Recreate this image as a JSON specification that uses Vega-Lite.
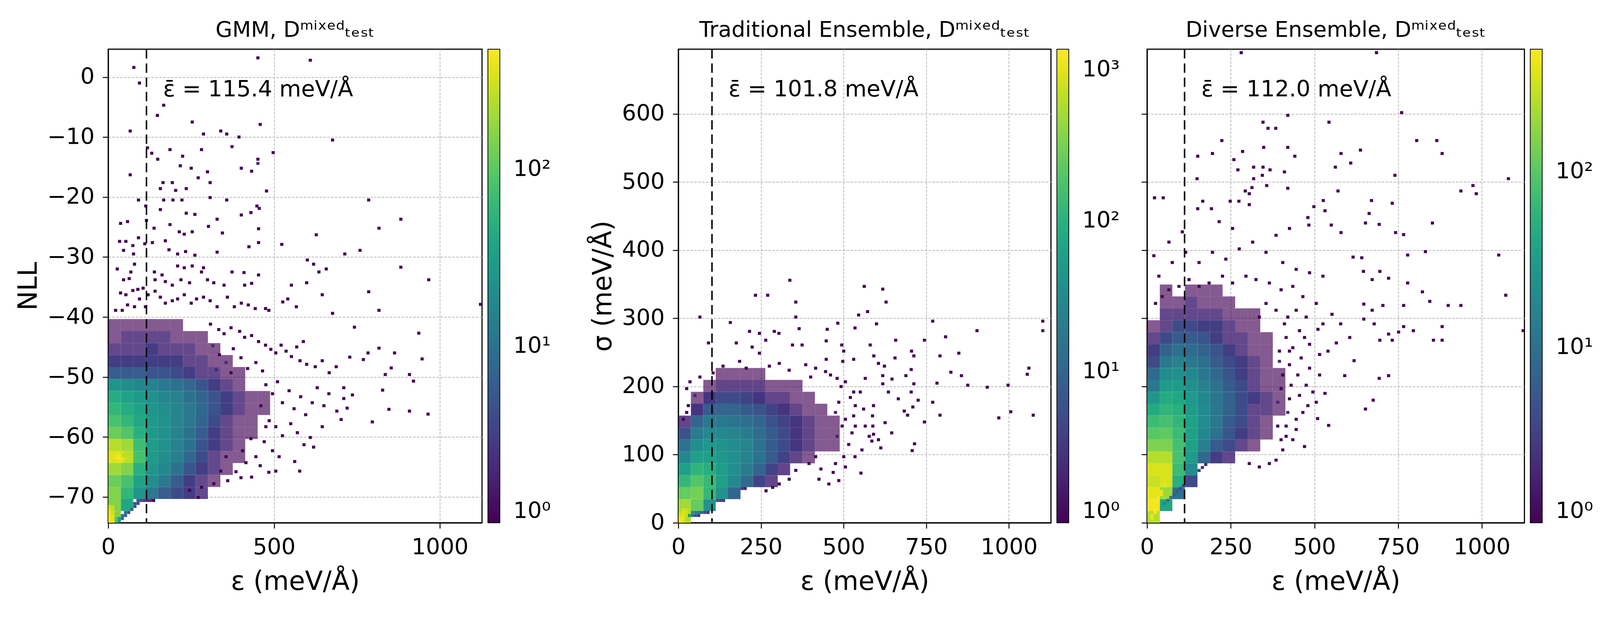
{
  "$schema": "https://vega.github.io/schema/vega-lite/v6.json",
  "background": "white",
  "padding": {"left": 37, "top": 48, "right": 5, "bottom": 5},
  "config": {
    "font": "DejaVu Sans",
    "view": {"stroke": "black", "strokeWidth": 2.9},
    "title": {"fontSize": 55.4, "fontWeight": "normal", "font": "DejaVu Sans", "anchor": "middle", "frame": "group", "offset": 19, "baseline": "alphabetic", "color": "black"},
    "axis": {
      "labelFontSize": 57.3, "titleFontSize": 66.9, "titleFontWeight": "normal", "labelColor": "black", "titleColor": "black",
      "tickSize": 14.3, "tickWidth": 2.4, "tickColor": "black", "labelPadding": 21, "titlePadding": 13.4,
      "domainColor": "black", "domainWidth": 2.9, "grid": true, "gridDash": [6.7, 3.3], "gridColor": "#b8b8b8", "gridWidth": 1.9,
      "zindex": 1, "labelFlush": false, "labelOverlap": false
    },
    "axisX": {"titlePadding": 26.7},
    "legend": {
      "gradientLength": 1213, "gradientThickness": 30.6, "labelFontSize": 57.3, "labelColor": "black", "offset": 15.3,
      "padding": 0, "gradientStrokeColor": "black", "gradientStrokeWidth": 1.9, "labelBaseline": "middle", "direction": "vertical", "orient": "right"
    }
  },
  "datasets": {
    "a1": [{"m": 115.4, "tx": 165.4, "ty": -3.2, "t": "ε̄ = 115.4 meV/Å"}],
    "a2": [{"m": 101.8, "tx": 151.8, "ty": 625.6, "t": "ε̄ = 101.8 meV/Å"}],
    "a3": [{"m": 112.0, "tx": 162.0, "ty": 625.6, "t": "ε̄ = 112.0 meV/Å"}],
    "p1c": [
      {"x":0,"y":-74.3,"c":150},
      {"x":0,"y":-72.3,"c":150},{"x":37.5,"y":-72.3,"c":40},
      {"x":0,"y":-70.3,"c":150},{"x":37.5,"y":-70.3,"c":60},{"x":75,"y":-70.3,"c":25},{"x":112.5,"y":-70.3,"c":12},{"x":150,"y":-70.3,"c":6},{"x":187.5,"y":-70.3,"c":4},{"x":225,"y":-70.3,"c":3},{"x":262.5,"y":-70.3,"c":2},
      {"x":0,"y":-68.3,"c":120},{"x":37.5,"y":-68.3,"c":80},{"x":75,"y":-68.3,"c":35},{"x":112.5,"y":-68.3,"c":20},{"x":150,"y":-68.3,"c":12},{"x":187.5,"y":-68.3,"c":6},{"x":225,"y":-68.3,"c":3},{"x":262.5,"y":-68.3,"c":2},{"x":300,"y":-68.3,"c":1},
      {"x":0,"y":-66.3,"c":200},{"x":37.5,"y":-66.3,"c":150},{"x":75,"y":-66.3,"c":50},{"x":112.5,"y":-66.3,"c":25},{"x":150,"y":-66.3,"c":18},{"x":187.5,"y":-66.3,"c":10},{"x":225,"y":-66.3,"c":5},{"x":262.5,"y":-66.3,"c":3},{"x":300,"y":-66.3,"c":2},{"x":337.5,"y":-66.3,"c":1},
      {"x":0,"y":-64.3,"c":350},{"x":37.5,"y":-64.3,"c":250},{"x":75,"y":-64.3,"c":80},{"x":112.5,"y":-64.3,"c":30},{"x":150,"y":-64.3,"c":20},{"x":187.5,"y":-64.3,"c":14},{"x":225,"y":-64.3,"c":8},{"x":262.5,"y":-64.3,"c":4},{"x":300,"y":-64.3,"c":2},{"x":337.5,"y":-64.3,"c":1},{"x":375,"y":-64.3,"c":1},
      {"x":0,"y":-62.3,"c":250},{"x":37.5,"y":-62.3,"c":200},{"x":75,"y":-62.3,"c":70},{"x":112.5,"y":-62.3,"c":30},{"x":150,"y":-62.3,"c":22},{"x":187.5,"y":-62.3,"c":15},{"x":225,"y":-62.3,"c":10},{"x":262.5,"y":-62.3,"c":5},{"x":300,"y":-62.3,"c":3},{"x":337.5,"y":-62.3,"c":2},{"x":375,"y":-62.3,"c":1},
      {"x":0,"y":-60.3,"c":120},{"x":37.5,"y":-60.3,"c":90},{"x":75,"y":-60.3,"c":50},{"x":112.5,"y":-60.3,"c":28},{"x":150,"y":-60.3,"c":22},{"x":187.5,"y":-60.3,"c":16},{"x":225,"y":-60.3,"c":10},{"x":262.5,"y":-60.3,"c":6},{"x":300,"y":-60.3,"c":3},{"x":337.5,"y":-60.3,"c":2},{"x":375,"y":-60.3,"c":1},{"x":412.5,"y":-60.3,"c":1},
      {"x":0,"y":-58.3,"c":80},{"x":37.5,"y":-58.3,"c":60},{"x":75,"y":-58.3,"c":40},{"x":112.5,"y":-58.3,"c":28},{"x":150,"y":-58.3,"c":22},{"x":187.5,"y":-58.3,"c":16},{"x":225,"y":-58.3,"c":12},{"x":262.5,"y":-58.3,"c":7},{"x":300,"y":-58.3,"c":4},{"x":337.5,"y":-58.3,"c":2},{"x":375,"y":-58.3,"c":1},{"x":412.5,"y":-58.3,"c":1},
      {"x":0,"y":-56.3,"c":60},{"x":37.5,"y":-56.3,"c":45},{"x":75,"y":-56.3,"c":35},{"x":112.5,"y":-56.3,"c":25},{"x":150,"y":-56.3,"c":20},{"x":187.5,"y":-56.3,"c":16},{"x":225,"y":-56.3,"c":12},{"x":262.5,"y":-56.3,"c":8},{"x":300,"y":-56.3,"c":5},{"x":337.5,"y":-56.3,"c":3},{"x":375,"y":-56.3,"c":2},{"x":412.5,"y":-56.3,"c":1},{"x":450,"y":-56.3,"c":1},
      {"x":0,"y":-54.3,"c":45},{"x":37.5,"y":-54.3,"c":35},{"x":75,"y":-54.3,"c":28},{"x":112.5,"y":-54.3,"c":22},{"x":150,"y":-54.3,"c":18},{"x":187.5,"y":-54.3,"c":15},{"x":225,"y":-54.3,"c":10},{"x":262.5,"y":-54.3,"c":7},{"x":300,"y":-54.3,"c":5},{"x":337.5,"y":-54.3,"c":3},{"x":375,"y":-54.3,"c":2},{"x":412.5,"y":-54.3,"c":1},{"x":450,"y":-54.3,"c":1},
      {"x":0,"y":-52.3,"c":25},{"x":37.5,"y":-52.3,"c":20},{"x":75,"y":-52.3,"c":18},{"x":112.5,"y":-52.3,"c":15},{"x":150,"y":-52.3,"c":12},{"x":187.5,"y":-52.3,"c":10},{"x":225,"y":-52.3,"c":8},{"x":262.5,"y":-52.3,"c":5},{"x":300,"y":-52.3,"c":3},{"x":337.5,"y":-52.3,"c":2},{"x":375,"y":-52.3,"c":1},
      {"x":0,"y":-50.3,"c":6},{"x":37.5,"y":-50.3,"c":6},{"x":75,"y":-50.3,"c":6},{"x":112.5,"y":-50.3,"c":5},{"x":150,"y":-50.3,"c":5},{"x":187.5,"y":-50.3,"c":4},{"x":225,"y":-50.3,"c":3},{"x":262.5,"y":-50.3,"c":2},{"x":300,"y":-50.3,"c":2},{"x":337.5,"y":-50.3,"c":1},{"x":375,"y":-50.3,"c":1},
      {"x":0,"y":-48.3,"c":3},{"x":37.5,"y":-48.3,"c":3},{"x":75,"y":-48.3,"c":3},{"x":112.5,"y":-48.3,"c":3},{"x":150,"y":-48.3,"c":3},{"x":187.5,"y":-48.3,"c":3},{"x":225,"y":-48.3,"c":2},{"x":262.5,"y":-48.3,"c":2},{"x":300,"y":-48.3,"c":1},{"x":337.5,"y":-48.3,"c":1},
      {"x":0,"y":-46.3,"c":2},{"x":37.5,"y":-46.3,"c":2},{"x":75,"y":-46.3,"c":2},{"x":112.5,"y":-46.3,"c":3},{"x":150,"y":-46.3,"c":2},{"x":187.5,"y":-46.3,"c":2},{"x":225,"y":-46.3,"c":2},{"x":262.5,"y":-46.3,"c":1},{"x":300,"y":-46.3,"c":1},
      {"x":0,"y":-44.3,"c":1},{"x":37.5,"y":-44.3,"c":2},{"x":75,"y":-44.3,"c":2},{"x":112.5,"y":-44.3,"c":2},{"x":150,"y":-44.3,"c":2},{"x":187.5,"y":-44.3,"c":1},{"x":225,"y":-44.3,"c":1},{"x":262.5,"y":-44.3,"c":1},
      {"x":0,"y":-42.3,"c":1},{"x":37.5,"y":-42.3,"c":1},{"x":75,"y":-42.3,"c":1},{"x":112.5,"y":-42.3,"c":1},{"x":150,"y":-42.3,"c":1},{"x":187.5,"y":-42.3,"c":1}
    ],
    "p1f": [
      {"x":0,"y":-74.3,"c":450},{"x":9.4,"y":-74.3,"c":400},{"x":0,"y":-73.8,"c":450},{"x":9.4,"y":-73.8,"c":380},{"x":0,"y":-73.3,"c":420},{"x":9.4,"y":-73.3,"c":350},{"x":0,"y":-72.8,"c":400},{"x":9.4,"y":-72.8,"c":300},{"x":0,"y":-72.3,"c":350},{"x":9.4,"y":-72.3,"c":280},{"x":0,"y":-71.8,"c":300},{"x":9.4,"y":-71.8,"c":250},
      {"x":18.8,"y":-74.3,"c":80},{"x":28.2,"y":-74.3,"c":25},{"x":18.8,"y":-73.8,"c":90},{"x":28.2,"y":-73.8,"c":30},{"x":37.6,"y":-73.8,"c":8},{"x":37.6,"y":-73.3,"c":10},{"x":47,"y":-73.3,"c":6},{"x":47,"y":-72.8,"c":8},{"x":56.4,"y":-72.8,"c":4},{"x":65.8,"y":-72.3,"c":6},{"x":75.2,"y":-71.8,"c":4},{"x":75.2,"y":-71.3,"c":5},{"x":84.6,"y":-71.3,"c":4},{"x":84.6,"y":-70.8,"c":5},{"x":94,"y":-70.8,"c":4},{"x":103.4,"y":-70.8,"c":3},{"x":112.8,"y":-70.8,"c":2},{"x":122.2,"y":-70.8,"c":2},{"x":131.6,"y":-70.8,"c":1},
      {"x":18.8,"y":-63.8,"c":420},{"x":28.2,"y":-63.8,"c":450},{"x":37.6,"y":-63.8,"c":400},{"x":18.8,"y":-63.3,"c":400},{"x":28.2,"y":-63.3,"c":420},{"x":28.2,"y":-64.3,"c":380},{"x":37.6,"y":-64.3,"c":350},{"x":47,"y":-63.8,"c":330},{"x":18.8,"y":-64.3,"c":350},{"x":37.6,"y":-62.8,"c":330},{"x":28.2,"y":-62.8,"c":360},
      {"x":446,"y":3.0,"c":1},{"x":604,"y":2.6,"c":1},{"x":72,"y":1.4,"c":1},{"x":89,"y":-1.2,"c":1},{"x":162,"y":-4.9,"c":1},{"x":143,"y":-6.6,"c":1},{"x":248,"y":-7.7,"c":1},{"x":453,"y":-8.1,"c":1},{"x":61,"y":-9.2,"c":1},{"x":334,"y":-9.2,"c":1},{"x":352,"y":-9.7,"c":1},{"x":282,"y":-9.7,"c":1},{"x":389,"y":-10.2,"c":1},{"x":671,"y":-10.7,"c":1},
      {"x":113,"y":-12.0,"c":1},{"x":181,"y":-12.3,"c":1},{"x":276,"y":-12.3,"c":1},{"x":368,"y":-11.8,"c":1},{"x":492,"y":-12.8,"c":1},{"x":126,"y":-12.9,"c":1},{"x":219,"y":-13.4,"c":1},{"x":446,"y":-13.9,"c":1},{"x":446,"y":-14.6,"c":2},{"x":144,"y":-13.9,"c":1},{"x":212,"y":-15.0,"c":1},{"x":245,"y":-15.4,"c":1},{"x":396,"y":-15.4,"c":1},{"x":427,"y":-15.9,"c":1},{"x":294,"y":-16.0,"c":1},{"x":61,"y":-16.5,"c":1},{"x":266,"y":-17.0,"c":1},
      {"x":160,"y":-17.8,"c":1},{"x":188,"y":-17.8,"c":1},{"x":302,"y":-17.8,"c":1},{"x":152,"y":-18.8,"c":1},{"x":230,"y":-18.8,"c":1},{"x":198,"y":-19.1,"c":1},{"x":472,"y":-19.2,"c":1},{"x":86,"y":-20.7,"c":1},{"x":162,"y":-20.7,"c":1},{"x":190,"y":-20.7,"c":1},{"x":217,"y":-20.7,"c":1},{"x":302,"y":-20.3,"c":1},{"x":352,"y":-20.7,"c":1},{"x":780,"y":-20.7,"c":1},
      {"x":443,"y":-21.7,"c":1},{"x":450,"y":-22.1,"c":1},{"x":108,"y":-21.7,"c":1},{"x":152,"y":-22.3,"c":1},{"x":425,"y":-22.8,"c":1},{"x":396,"y":-23.2,"c":1},{"x":230,"y":-22.9,"c":1},{"x":256,"y":-23.1,"c":1},{"x":110,"y":-24.1,"c":1},{"x":323,"y":-23.9,"c":1},{"x":297,"y":-25.1,"c":1},{"x":877,"y":-23.9,"c":1},{"x":32,"y":-24.6,"c":1},{"x":53,"y":-24.3,"c":1},
      {"x":181,"y":-24.8,"c":1},{"x":209,"y":-26.0,"c":1},{"x":224,"y":-26.4,"c":1},{"x":248,"y":-26.0,"c":1},{"x":133,"y":-25.4,"c":1},{"x":448,"y":-25.5,"c":1},{"x":811,"y":-25.4,"c":1},{"x":622,"y":-26.5,"c":1},{"x":86,"y":-27.0,"c":1},{"x":105,"y":-28.0,"c":1},{"x":29,"y":-27.6,"c":1},{"x":48,"y":-27.6,"c":1},{"x":69,"y":-28.3,"c":1},{"x":339,"y":-26.2,"c":1},
      {"x":167,"y":-27.5,"c":1},{"x":178,"y":-29.0,"c":1},{"x":448,"y":-27.8,"c":1},{"x":419,"y":-28.5,"c":1},{"x":518,"y":-28.1,"c":1},{"x":128,"y":-27.8,"c":1},{"x":204,"y":-29.7,"c":1},{"x":228,"y":-29.3,"c":1},{"x":256,"y":-29.9,"c":1},{"x":323,"y":-29.4,"c":1},{"x":708,"y":-29.7,"c":1},{"x":754,"y":-29.1,"c":1},{"x":41,"y":-29.1,"c":1},{"x":71,"y":-29.7,"c":1},
      {"x":595,"y":-30.7,"c":1},{"x":614,"y":-31.4,"c":1},{"x":630,"y":-32.7,"c":1},{"x":652,"y":-32.2,"c":1},{"x":877,"y":-31.9,"c":1},{"x":22,"y":-32.2,"c":1},{"x":74,"y":-31.4,"c":1},{"x":63,"y":-32.7,"c":1},{"x":204,"y":-31.7,"c":1},{"x":224,"y":-32.0,"c":1},{"x":248,"y":-31.7,"c":1},{"x":276,"y":-32.7,"c":1},{"x":282,"y":-32.0,"c":1},{"x":134,"y":-32.7,"c":1},{"x":157,"y":-33.2,"c":1},
      {"x":368,"y":-32.7,"c":1},{"x":404,"y":-32.8,"c":1},{"x":448,"y":-33.2,"c":1},{"x":961,"y":-34.0,"c":1},{"x":41,"y":-34.0,"c":1},{"x":58,"y":-33.8,"c":1},{"x":136,"y":-34.0,"c":1},{"x":167,"y":-34.3,"c":1},{"x":188,"y":-34.9,"c":1},{"x":214,"y":-34.0,"c":1},{"x":240,"y":-34.5,"c":1},{"x":294,"y":-34.0,"c":1},{"x":313,"y":-34.5,"c":1},{"x":344,"y":-34.9,"c":1},
      {"x":406,"y":-34.9,"c":1},{"x":427,"y":-34.6,"c":1},{"x":547,"y":-34.9,"c":1},{"x":593,"y":-34.5,"c":1},{"x":780,"y":-36.0,"c":1},{"x":640,"y":-36.5,"c":1},{"x":1117,"y":-38.1,"c":1},{"x":811,"y":-39.1,"c":1},{"x":479,"y":-39.1,"c":1},{"x":536,"y":-37.2,"c":1},{"x":521,"y":-37.7,"c":1},{"x":562,"y":-38.5,"c":1},{"x":671,"y":-39.6,"c":1},
      {"x":32,"y":-36.2,"c":1},{"x":48,"y":-36.5,"c":1},{"x":69,"y":-35.8,"c":1},{"x":84,"y":-35.6,"c":1},{"x":100,"y":-35.4,"c":1},{"x":53,"y":-38.2,"c":1},{"x":74,"y":-38.5,"c":1},{"x":89,"y":-37.2,"c":1},{"x":107,"y":-38.5,"c":1},{"x":17,"y":-39.1,"c":1},{"x":37,"y":-39.1,"c":1},{"x":115,"y":-36.5,"c":1},{"x":136,"y":-35.9,"c":1},{"x":152,"y":-36.9,"c":1},
      {"x":167,"y":-37.9,"c":1},{"x":188,"y":-37.5,"c":1},{"x":204,"y":-37.2,"c":1},{"x":224,"y":-36.5,"c":1},{"x":245,"y":-37.9,"c":1},{"x":261,"y":-37.2,"c":1},{"x":282,"y":-36.9,"c":1},{"x":302,"y":-37.5,"c":1},{"x":323,"y":-38.5,"c":1},{"x":354,"y":-36.9,"c":1},{"x":375,"y":-38.5,"c":1},{"x":396,"y":-37.9,"c":1},{"x":417,"y":-38.2,"c":1},{"x":438,"y":-38.8,"c":1},{"x":469,"y":-38.8,"c":1},
      {"x":303,"y":-41.4,"c":1},{"x":328,"y":-42.3,"c":1},{"x":344,"y":-43.0,"c":1},{"x":365,"y":-42.0,"c":1},{"x":391,"y":-42.6,"c":1},{"x":406,"y":-43.6,"c":1},{"x":427,"y":-43.3,"c":1},{"x":448,"y":-44.3,"c":1},{"x":469,"y":-44.9,"c":1},{"x":485,"y":-45.6,"c":1},{"x":500,"y":-46.2,"c":1},{"x":516,"y":-44.9,"c":1},{"x":531,"y":-45.9,"c":1},{"x":547,"y":-46.8,"c":1},
      {"x":563,"y":-45.2,"c":1},{"x":583,"y":-44.3,"c":1},{"x":573,"y":-47.5,"c":1},{"x":593,"y":-48.1,"c":1},{"x":619,"y":-48.5,"c":1},{"x":640,"y":-47.5,"c":1},{"x":661,"y":-49.5,"c":1},{"x":682,"y":-48.5,"c":1},{"x":705,"y":-52.0,"c":1},{"x":723,"y":-46.9,"c":1},
      {"x":310,"y":-45.0,"c":2},{"x":330,"y":-46.5,"c":1},{"x":350,"y":-47.8,"c":2},{"x":372,"y":-45.5,"c":1},{"x":395,"y":-47.0,"c":1},{"x":415,"y":-48.8,"c":1},{"x":440,"y":-47.8,"c":1},{"x":460,"y":-49.2,"c":1},{"x":320,"y":-49.0,"c":2},{"x":365,"y":-49.5,"c":1},
      {"x":737,"y":-41.9,"c":1},{"x":778,"y":-46.2,"c":1},{"x":811,"y":-45.4,"c":1},{"x":764,"y":-47.3,"c":1},{"x":858,"y":-46.2,"c":1},{"x":931,"y":-42.9,"c":1},{"x":941,"y":-47.2,"c":1},{"x":848,"y":-48.7,"c":1},{"x":830,"y":-49.8,"c":1},{"x":903,"y":-49.8,"c":1},{"x":915,"y":-50.9,"c":1},{"x":822,"y":-52.4,"c":1},{"x":903,"y":-55.9,"c":1},{"x":959,"y":-56.4,"c":1},
      {"x":841,"y":-55.6,"c":1},{"x":791,"y":-57.7,"c":1},{"x":705,"y":-53.8,"c":1},{"x":731,"y":-53.2,"c":1},{"x":715,"y":-55.4,"c":1},{"x":684,"y":-55.9,"c":1},{"x":697,"y":-57.3,"c":1},{"x":640,"y":-58.5,"c":1},{"x":604,"y":-60.3,"c":1},{"x":614,"y":-61.9,"c":1},{"x":557,"y":-64.3,"c":1},{"x":572,"y":-65.9,"c":1},{"x":479,"y":-66.1,"c":1},{"x":500,"y":-65.9,"c":1},
      {"x":453,"y":-65.0,"c":1},{"x":427,"y":-66.9,"c":1},{"x":334,"y":-65.9,"c":1},{"x":355,"y":-67.5,"c":1},{"x":313,"y":-68.0,"c":1},{"x":266,"y":-70.3,"c":1},{"x":240,"y":-69.1,"c":1},{"x":276,"y":-68.6,"c":1},
      {"x":470,"y":-51.5,"c":1},{"x":490,"y":-53.0,"c":1},{"x":505,"y":-51.0,"c":1},{"x":520,"y":-54.5,"c":1},{"x":540,"y":-52.5,"c":1},{"x":555,"y":-55.5,"c":1},{"x":575,"y":-53.5,"c":1},{"x":590,"y":-56.5,"c":1},{"x":610,"y":-54.5,"c":1},{"x":625,"y":-52.0,"c":1},{"x":645,"y":-55.0,"c":1},{"x":660,"y":-53.0,"c":1},{"x":480,"y":-57.5,"c":1},{"x":500,"y":-58.5,"c":1},
      {"x":520,"y":-60.0,"c":1},{"x":545,"y":-58.0,"c":1},{"x":565,"y":-59.5,"c":1},{"x":585,"y":-61.5,"c":1},{"x":465,"y":-61.0,"c":1},{"x":490,"y":-62.5,"c":1},{"x":440,"y":-63.5,"c":1},{"x":510,"y":-63.5,"c":1},{"x":425,"y":-60.5,"c":1},{"x":400,"y":-62.5,"c":1},{"x":410,"y":-64.5,"c":1},{"x":380,"y":-66.0,"c":1},{"x":395,"y":-67.0,"c":1},{"x":350,"y":-63.5,"c":1},{"x":455,"y":-55.0,"c":1},{"x":470,"y":-58.5,"c":1}
    ],
    "p2c": [
      {"x":0,"y":0,"c":600},
      {"x":0,"y":17.5,"c":500},{"x":37.5,"y":17.5,"c":250},{"x":75,"y":17.5,"c":40},
      {"x":0,"y":35,"c":250},{"x":37.5,"y":35,"c":300},{"x":75,"y":35,"c":120},{"x":112.5,"y":35,"c":40},{"x":150,"y":35,"c":10},
      {"x":0,"y":52.5,"c":120},{"x":37.5,"y":52.5,"c":200},{"x":75,"y":52.5,"c":130},{"x":112.5,"y":52.5,"c":60},{"x":150,"y":52.5,"c":30},{"x":187.5,"y":52.5,"c":12},{"x":225,"y":52.5,"c":4},{"x":262.5,"y":52.5,"c":2},
      {"x":0,"y":70,"c":60},{"x":37.5,"y":70,"c":110},{"x":75,"y":70,"c":90},{"x":112.5,"y":70,"c":55},{"x":150,"y":70,"c":35},{"x":187.5,"y":70,"c":20},{"x":225,"y":70,"c":10},{"x":262.5,"y":70,"c":4},{"x":300,"y":70,"c":2},
      {"x":0,"y":87.5,"c":30},{"x":37.5,"y":87.5,"c":60},{"x":75,"y":87.5,"c":60},{"x":112.5,"y":87.5,"c":45},{"x":150,"y":87.5,"c":35},{"x":187.5,"y":87.5,"c":25},{"x":225,"y":87.5,"c":15},{"x":262.5,"y":87.5,"c":8},{"x":300,"y":87.5,"c":4},{"x":337.5,"y":87.5,"c":2},{"x":375,"y":87.5,"c":1},
      {"x":0,"y":105,"c":15},{"x":37.5,"y":105,"c":35},{"x":75,"y":105,"c":45},{"x":112.5,"y":105,"c":40},{"x":150,"y":105,"c":32},{"x":187.5,"y":105,"c":25},{"x":225,"y":105,"c":15},{"x":262.5,"y":105,"c":8},{"x":300,"y":105,"c":5},{"x":337.5,"y":105,"c":3},{"x":375,"y":105,"c":2},{"x":412.5,"y":105,"c":1},{"x":450,"y":105,"c":1},
      {"x":0,"y":122.5,"c":6},{"x":37.5,"y":122.5,"c":20},{"x":75,"y":122.5,"c":30},{"x":112.5,"y":122.5,"c":30},{"x":150,"y":122.5,"c":25},{"x":187.5,"y":122.5,"c":20},{"x":225,"y":122.5,"c":13},{"x":262.5,"y":122.5,"c":8},{"x":300,"y":122.5,"c":5},{"x":337.5,"y":122.5,"c":3},{"x":375,"y":122.5,"c":2},{"x":412.5,"y":122.5,"c":1},{"x":450,"y":122.5,"c":1},
      {"x":0,"y":140,"c":2},{"x":37.5,"y":140,"c":10},{"x":75,"y":140,"c":18},{"x":112.5,"y":140,"c":18},{"x":150,"y":140,"c":16},{"x":187.5,"y":140,"c":14},{"x":225,"y":140,"c":10},{"x":262.5,"y":140,"c":6},{"x":300,"y":140,"c":4},{"x":337.5,"y":140,"c":3},{"x":375,"y":140,"c":2},{"x":412.5,"y":140,"c":1},{"x":450,"y":140,"c":1},
      {"x":37.5,"y":157.5,"c":3},{"x":75,"y":157.5,"c":8},{"x":112.5,"y":157.5,"c":10},{"x":150,"y":157.5,"c":10},{"x":187.5,"y":157.5,"c":8},{"x":225,"y":157.5,"c":6},{"x":262.5,"y":157.5,"c":4},{"x":300,"y":157.5,"c":3},{"x":337.5,"y":157.5,"c":2},{"x":375,"y":157.5,"c":1},{"x":412.5,"y":157.5,"c":1},
      {"x":37.5,"y":175,"c":1},{"x":75,"y":175,"c":3},{"x":112.5,"y":175,"c":5},{"x":150,"y":175,"c":5},{"x":187.5,"y":175,"c":4},{"x":225,"y":175,"c":3},{"x":262.5,"y":175,"c":2},{"x":300,"y":175,"c":2},{"x":337.5,"y":175,"c":1},{"x":375,"y":175,"c":1},
      {"x":75,"y":192.5,"c":1},{"x":112.5,"y":192.5,"c":2},{"x":150,"y":192.5,"c":2},{"x":187.5,"y":192.5,"c":2},{"x":225,"y":192.5,"c":2},{"x":262.5,"y":192.5,"c":1},{"x":300,"y":192.5,"c":1},{"x":337.5,"y":192.5,"c":1},
      {"x":112.5,"y":210,"c":1},{"x":150,"y":210,"c":1},{"x":187.5,"y":210,"c":1},{"x":225,"y":210,"c":1}
    ],
    "p2f": [
      {"x":0,"y":0,"c":1300},{"x":9.4,"y":0,"c":1000},{"x":0,"y":4.4,"c":1200},{"x":9.4,"y":4.4,"c":1100},{"x":0,"y":8.8,"c":900},{"x":9.4,"y":8.8,"c":1000},{"x":18.8,"y":8.8,"c":800},{"x":9.4,"y":13.2,"c":900},{"x":18.8,"y":13.2,"c":850},{"x":18.8,"y":17.6,"c":700},{"x":28.2,"y":17.6,"c":600},{"x":9.4,"y":17.6,"c":800},{"x":0,"y":13.2,"c":700},{"x":28.2,"y":22,"c":500},
      {"x":28.2,"y":8.8,"c":60},{"x":37.6,"y":8.8,"c":15},{"x":47,"y":8.8,"c":6},{"x":56.4,"y":8.8,"c":3},{"x":37.6,"y":13.2,"c":30},{"x":47,"y":13.2,"c":20},{"x":56.4,"y":13.2,"c":15},{"x":65.8,"y":13.2,"c":10},{"x":75.2,"y":13.2,"c":6},{"x":84.6,"y":13.2,"c":3},
      {"x":112.8,"y":30.8,"c":5},{"x":122.2,"y":30.8,"c":4},{"x":131.6,"y":30.8,"c":3},{"x":187.6,"y":48.4,"c":3},{"x":197,"y":48.4,"c":2},
      {"x":332,"y":354,"c":1},{"x":228,"y":332,"c":1},{"x":265,"y":332,"c":1},{"x":350,"y":322,"c":1},{"x":557,"y":345,"c":1},{"x":613,"y":341,"c":1},{"x":623,"y":322,"c":1},{"x":567,"y":308,"c":1},{"x":60,"y":300,"c":1},{"x":152,"y":292,"c":1},{"x":350,"y":300,"c":1},{"x":540,"y":303,"c":1},{"x":764,"y":294,"c":1},{"x":1097,"y":294,"c":1},{"x":1097,"y":280,"c":1},
      {"x":477,"y":291,"c":1},{"x":445,"y":282,"c":1},{"x":529,"y":284,"c":1},{"x":594,"y":290,"c":1},{"x":210,"y":279,"c":1},{"x":240,"y":276,"c":1},{"x":285,"y":279,"c":1},{"x":299,"y":276,"c":1},{"x":898,"y":280,"c":1},{"x":803,"y":271,"c":1},{"x":360,"y":283,"c":1},{"x":652,"y":266,"c":1},{"x":739,"y":266,"c":1},{"x":86,"y":262,"c":1},{"x":170,"y":262,"c":1},
      {"x":259,"y":266,"c":1},{"x":489,"y":259,"c":1},{"x":575,"y":259,"c":1},{"x":442,"y":265,"c":1},{"x":340,"y":259,"c":1},{"x":369,"y":259,"c":1},{"x":218,"y":256,"c":1},{"x":240,"y":247,"c":1},{"x":843,"y":247,"c":1},{"x":786,"y":243,"c":1},{"x":707,"y":243,"c":1},{"x":586,"y":243,"c":1},{"x":618,"y":228,"c":1},{"x":495,"y":250,"c":1},{"x":525,"y":238,"c":1},
      {"x":442,"y":238,"c":1},{"x":492,"y":235,"c":1},{"x":1055,"y":225,"c":1},{"x":1050,"y":216,"c":1},{"x":819,"y":219,"c":1},{"x":851,"y":214,"c":1},{"x":870,"y":200,"c":1},{"x":929,"y":197,"c":1},{"x":992,"y":200,"c":1},{"x":777,"y":203,"c":1},{"x":699,"y":223,"c":1},{"x":683,"y":214,"c":1},{"x":613,"y":214,"c":1},{"x":613,"y":202,"c":1},{"x":641,"y":209,"c":1},
      {"x":707,"y":202,"c":1},{"x":699,"y":190,"c":1},{"x":720,"y":178,"c":1},{"x":704,"y":168,"c":1},{"x":678,"y":162,"c":1},{"x":688,"y":156,"c":1},{"x":764,"y":175,"c":1},{"x":739,"y":146,"c":1},{"x":786,"y":156,"c":1},{"x":964,"y":152,"c":1},{"x":1000,"y":161,"c":1},{"x":1068,"y":156,"c":1},{"x":709,"y":114,"c":1},{"x":702,"y":104,"c":1},{"x":607,"y":108,"c":1},
      {"x":547,"y":71,"c":1},{"x":529,"y":95,"c":1},{"x":495,"y":95,"c":1},{"x":426,"y":77,"c":1},{"x":463,"y":72,"c":1},{"x":572,"y":125,"c":1},{"x":580,"y":118,"c":1},{"x":600,"y":120,"c":1},{"x":520,"y":130,"c":1},{"x":510,"y":113,"c":1},{"x":585,"y":170,"c":1},{"x":582,"y":155,"c":1},{"x":583,"y":140,"c":1},{"x":585,"y":128,"c":1},{"x":530,"y":170,"c":1},
      {"x":525,"y":155,"c":1},{"x":530,"y":140,"c":1},{"x":500,"y":205,"c":1},{"x":525,"y":190,"c":1},{"x":515,"y":182,"c":1},{"x":455,"y":215,"c":1},{"x":475,"y":210,"c":1},{"x":487,"y":198,"c":1},{"x":440,"y":220,"c":1},{"x":380,"y":230,"c":1},{"x":410,"y":225,"c":1},{"x":395,"y":212,"c":1},{"x":330,"y":222,"c":1},{"x":300,"y":232,"c":1},{"x":270,"y":228,"c":1},
      {"x":200,"y":225,"c":1},{"x":180,"y":235,"c":1},{"x":130,"y":228,"c":1},{"x":100,"y":218,"c":1},{"x":60,"y":212,"c":1},{"x":30,"y":205,"c":1},{"x":20,"y":195,"c":1},{"x":45,"y":185,"c":2},{"x":25,"y":170,"c":1},{"x":20,"y":160,"c":1},{"x":10,"y":150,"c":1},{"x":480,"y":60,"c":1},{"x":450,"y":55,"c":1},{"x":420,"y":62,"c":1},{"x":500,"y":80,"c":1},
      {"x":470,"y":85,"c":1},{"x":550,"y":105,"c":1},{"x":620,"y":145,"c":1},{"x":640,"y":130,"c":1},{"x":660,"y":180,"c":1},{"x":630,"y":190,"c":1},{"x":560,"y":210,"c":1},{"x":600,"y":232,"c":1},{"x":650,"y":240,"c":1},{"x":700,"y":250,"c":1},{"x":480,"y":175,"c":1},{"x":470,"y":160,"c":2},{"x":490,"y":140,"c":1},{"x":475,"y":125,"c":2},{"x":500,"y":150,"c":1},
      {"x":545,"y":190,"c":1},{"x":555,"y":165,"c":1},{"x":560,"y":140,"c":1},{"x":410,"y":95,"c":1},{"x":390,"y":85,"c":1},{"x":350,"y":75,"c":1},{"x":330,"y":62,"c":1},{"x":300,"y":55,"c":1},{"x":280,"y":50,"c":1},{"x":260,"y":45,"c":1}
    ],
    "p3c": [
      {"x":0,"y":0,"c":250},
      {"x":0,"y":17.5,"c":450},{"x":37.5,"y":17.5,"c":40},
      {"x":0,"y":35,"c":400},{"x":37.5,"y":35,"c":200},{"x":75,"y":35,"c":10},
      {"x":0,"y":52.5,"c":300},{"x":37.5,"y":52.5,"c":350},{"x":75,"y":52.5,"c":50},{"x":112.5,"y":52.5,"c":4},
      {"x":0,"y":70,"c":350},{"x":37.5,"y":70,"c":350},{"x":75,"y":70,"c":70},{"x":112.5,"y":70,"c":20},
      {"x":0,"y":87.5,"c":250},{"x":37.5,"y":87.5,"c":250},{"x":75,"y":87.5,"c":80},{"x":112.5,"y":87.5,"c":30},{"x":150,"y":87.5,"c":8},{"x":187.5,"y":87.5,"c":3},{"x":225,"y":87.5,"c":2},
      {"x":0,"y":105,"c":150},{"x":37.5,"y":105,"c":150},{"x":75,"y":105,"c":80},{"x":112.5,"y":105,"c":35},{"x":150,"y":105,"c":14},{"x":187.5,"y":105,"c":6},{"x":225,"y":105,"c":4},{"x":262.5,"y":105,"c":2},{"x":300,"y":105,"c":1},
      {"x":0,"y":122.5,"c":100},{"x":37.5,"y":122.5,"c":110},{"x":75,"y":122.5,"c":70},{"x":112.5,"y":122.5,"c":35},{"x":150,"y":122.5,"c":18},{"x":187.5,"y":122.5,"c":10},{"x":225,"y":122.5,"c":5},{"x":262.5,"y":122.5,"c":3},{"x":300,"y":122.5,"c":2},{"x":337.5,"y":122.5,"c":1},
      {"x":0,"y":140,"c":70},{"x":37.5,"y":140,"c":80},{"x":75,"y":140,"c":60},{"x":112.5,"y":140,"c":35},{"x":150,"y":140,"c":20},{"x":187.5,"y":140,"c":12},{"x":225,"y":140,"c":6},{"x":262.5,"y":140,"c":4},{"x":300,"y":140,"c":2},{"x":337.5,"y":140,"c":1},
      {"x":0,"y":157.5,"c":45},{"x":37.5,"y":157.5,"c":60},{"x":75,"y":157.5,"c":50},{"x":112.5,"y":157.5,"c":30},{"x":150,"y":157.5,"c":20},{"x":187.5,"y":157.5,"c":12},{"x":225,"y":157.5,"c":7},{"x":262.5,"y":157.5,"c":4},{"x":300,"y":157.5,"c":2},{"x":337.5,"y":157.5,"c":2},{"x":375,"y":157.5,"c":1},
      {"x":0,"y":175,"c":25},{"x":37.5,"y":175,"c":45},{"x":75,"y":175,"c":40},{"x":112.5,"y":175,"c":28},{"x":150,"y":175,"c":18},{"x":187.5,"y":175,"c":11},{"x":225,"y":175,"c":7},{"x":262.5,"y":175,"c":4},{"x":300,"y":175,"c":3},{"x":337.5,"y":175,"c":2},{"x":375,"y":175,"c":1},
      {"x":0,"y":192.5,"c":12},{"x":37.5,"y":192.5,"c":30},{"x":75,"y":192.5,"c":30},{"x":112.5,"y":192.5,"c":22},{"x":150,"y":192.5,"c":15},{"x":187.5,"y":192.5,"c":10},{"x":225,"y":192.5,"c":6},{"x":262.5,"y":192.5,"c":4},{"x":300,"y":192.5,"c":2},{"x":337.5,"y":192.5,"c":1},{"x":375,"y":192.5,"c":1},
      {"x":0,"y":210,"c":8},{"x":37.5,"y":210,"c":20},{"x":75,"y":210,"c":22},{"x":112.5,"y":210,"c":18},{"x":150,"y":210,"c":12},{"x":187.5,"y":210,"c":8},{"x":225,"y":210,"c":5},{"x":262.5,"y":210,"c":3},{"x":300,"y":210,"c":2},{"x":337.5,"y":210,"c":1},{"x":375,"y":210,"c":1},
      {"x":0,"y":227.5,"c":4},{"x":37.5,"y":227.5,"c":12},{"x":75,"y":227.5,"c":15},{"x":112.5,"y":227.5,"c":12},{"x":150,"y":227.5,"c":10},{"x":187.5,"y":227.5,"c":6},{"x":225,"y":227.5,"c":4},{"x":262.5,"y":227.5,"c":3},{"x":300,"y":227.5,"c":2},{"x":337.5,"y":227.5,"c":1},
      {"x":0,"y":245,"c":3},{"x":37.5,"y":245,"c":7},{"x":75,"y":245,"c":10},{"x":112.5,"y":245,"c":9},{"x":150,"y":245,"c":7},{"x":187.5,"y":245,"c":5},{"x":225,"y":245,"c":3},{"x":262.5,"y":245,"c":2},{"x":300,"y":245,"c":1},{"x":337.5,"y":245,"c":1},
      {"x":0,"y":262.5,"c":2},{"x":37.5,"y":262.5,"c":4},{"x":75,"y":262.5,"c":6},{"x":112.5,"y":262.5,"c":6},{"x":150,"y":262.5,"c":5},{"x":187.5,"y":262.5,"c":3},{"x":225,"y":262.5,"c":2},{"x":262.5,"y":262.5,"c":2},{"x":300,"y":262.5,"c":1},{"x":337.5,"y":262.5,"c":1},
      {"x":0,"y":280,"c":1},{"x":37.5,"y":280,"c":2},{"x":75,"y":280,"c":4},{"x":112.5,"y":280,"c":4},{"x":150,"y":280,"c":3},{"x":187.5,"y":280,"c":3},{"x":225,"y":280,"c":2},{"x":262.5,"y":280,"c":1},{"x":300,"y":280,"c":1},
      {"x":37.5,"y":297.5,"c":2},{"x":75,"y":297.5,"c":2},{"x":112.5,"y":297.5,"c":2},{"x":150,"y":297.5,"c":2},{"x":187.5,"y":297.5,"c":2},{"x":225,"y":297.5,"c":1},{"x":262.5,"y":297.5,"c":1},{"x":300,"y":297.5,"c":1},
      {"x":37.5,"y":315,"c":1},{"x":75,"y":315,"c":1},{"x":112.5,"y":315,"c":2},{"x":150,"y":315,"c":1},{"x":187.5,"y":315,"c":1},{"x":225,"y":315,"c":1},
      {"x":37.5,"y":332.5,"c":1},{"x":112.5,"y":332.5,"c":1},{"x":150,"y":332.5,"c":1},{"x":187.5,"y":332.5,"c":1}
    ],
    "p3f": [
      {"x":9.4,"y":4.4,"c":400},{"x":9.4,"y":8.8,"c":450},{"x":18.8,"y":13.2,"c":480},{"x":18.8,"y":17.6,"c":500},{"x":18.8,"y":22,"c":470},{"x":28.2,"y":26.4,"c":480},{"x":28.2,"y":30.8,"c":470},{"x":28.2,"y":35.2,"c":450},{"x":37.6,"y":39.6,"c":450},{"x":37.6,"y":44,"c":430},{"x":47,"y":52.8,"c":400},{"x":47,"y":57.2,"c":380},
      {"x":47,"y":26.4,"c":15},{"x":56.4,"y":30.8,"c":10},{"x":65.8,"y":35.2,"c":8},{"x":75.2,"y":39.6,"c":6},{"x":84.6,"y":44,"c":5},{"x":94,"y":48.4,"c":4},{"x":103.4,"y":52.8,"c":3},{"x":150,"y":74.8,"c":3},{"x":160,"y":79.2,"c":2},{"x":170,"y":83.6,"c":2},
      {"x":276,"y":688,"c":1},{"x":680,"y":688,"c":1},{"x":755,"y":600,"c":1},{"x":415,"y":596,"c":1},{"x":341,"y":586,"c":1},{"x":356,"y":577,"c":1},{"x":379,"y":577,"c":1},{"x":538,"y":586,"c":1},{"x":218,"y":559,"c":1},{"x":800,"y":559,"c":1},{"x":860,"y":559,"c":1},{"x":876,"y":540,"c":1},{"x":343,"y":549,"c":1},{"x":415,"y":549,"c":1},{"x":280,"y":543,"c":1},
      {"x":632,"y":545,"c":1},{"x":574,"y":540,"c":1},{"x":190,"y":540,"c":1},{"x":436,"y":536,"c":1},{"x":146,"y":536,"c":1},{"x":254,"y":531,"c":1},{"x":557,"y":520,"c":1},{"x":603,"y":526,"c":1},{"x":266,"y":516,"c":1},{"x":313,"y":520,"c":1},{"x":341,"y":520,"c":1},{"x":362,"y":516,"c":1},{"x":405,"y":513,"c":1},{"x":1074,"y":503,"c":1},{"x":735,"y":508,"c":1},
      {"x":144,"y":503,"c":1},{"x":339,"y":508,"c":1},{"x":313,"y":503,"c":1},{"x":308,"y":490,"c":1},{"x":352,"y":493,"c":1},{"x":932,"y":485,"c":1},{"x":968,"y":493,"c":1},{"x":978,"y":481,"c":1},{"x":415,"y":489,"c":1},{"x":565,"y":485,"c":1},{"x":288,"y":485,"c":1},{"x":300,"y":481,"c":1},{"x":17,"y":475,"c":1},{"x":43,"y":475,"c":1},{"x":161,"y":470,"c":1},
      {"x":146,"y":459,"c":1},{"x":187,"y":459,"c":1},{"x":243,"y":470,"c":1},{"x":269,"y":470,"c":1},{"x":300,"y":465,"c":1},{"x":521,"y":471,"c":1},{"x":665,"y":471,"c":1},{"x":658,"y":452,"c":1},{"x":727,"y":467,"c":1},{"x":493,"y":462,"c":1},{"x":526,"y":456,"c":1},{"x":647,"y":438,"c":1},{"x":688,"y":436,"c":1},{"x":847,"y":438,"c":1},{"x":737,"y":424,"c":1},
      {"x":475,"y":446,"c":1},{"x":478,"y":435,"c":1},{"x":574,"y":424,"c":1},{"x":545,"y":435,"c":1},{"x":761,"y":421,"c":1},{"x":773,"y":391,"c":1},{"x":826,"y":396,"c":1},{"x":1045,"y":391,"c":1},{"x":610,"y":388,"c":1},{"x":636,"y":387,"c":1},{"x":641,"y":367,"c":1},{"x":667,"y":355,"c":1},{"x":690,"y":367,"c":1},{"x":716,"y":357,"c":1},{"x":773,"y":350,"c":1},
      {"x":817,"y":337,"c":1},{"x":839,"y":323,"c":1},{"x":894,"y":317,"c":1},{"x":932,"y":317,"c":1},{"x":1066,"y":332,"c":1},{"x":761,"y":317,"c":1},{"x":699,"y":317,"c":1},{"x":642,"y":319,"c":1},{"x":667,"y":310,"c":1},{"x":1118,"y":280,"c":1},{"x":876,"y":286,"c":1},{"x":876,"y":266,"c":1},{"x":850,"y":266,"c":1},{"x":790,"y":280,"c":1},{"x":761,"y":286,"c":1},
      {"x":746,"y":278,"c":1},{"x":727,"y":266,"c":1},{"x":716,"y":275,"c":1},{"x":690,"y":266,"c":1},{"x":673,"y":290,"c":1},{"x":642,"y":297,"c":1},{"x":716,"y":214,"c":1},{"x":688,"y":210,"c":1},{"x":647,"y":165,"c":1},{"x":670,"y":178,"c":1},{"x":613,"y":236,"c":1},{"x":585,"y":214,"c":1},{"x":526,"y":188,"c":1},{"x":537,"y":141,"c":1},{"x":504,"y":151,"c":1},
      {"x":547,"y":304,"c":1},{"x":573,"y":290,"c":1},{"x":600,"y":270,"c":1},{"x":535,"y":250,"c":1},{"x":560,"y":262,"c":1},{"x":505,"y":282,"c":1},{"x":470,"y":300,"c":1},{"x":440,"y":310,"c":1},{"x":415,"y":300,"c":1},{"x":500,"y":320,"c":1},{"x":460,"y":330,"c":1},{"x":430,"y":345,"c":1},{"x":395,"y":340,"c":1},{"x":360,"y":350,"c":1},{"x":320,"y":355,"c":1},
      {"x":290,"y":360,"c":1},{"x":250,"y":350,"c":1},{"x":220,"y":360,"c":1},{"x":180,"y":350,"c":1},{"x":150,"y":345,"c":1},{"x":120,"y":355,"c":1},{"x":90,"y":345,"c":1},{"x":60,"y":340,"c":1},{"x":40,"y":330,"c":1},{"x":20,"y":320,"c":1},{"x":30,"y":360,"c":1},{"x":70,"y":380,"c":1},{"x":110,"y":395,"c":1},{"x":150,"y":380,"c":1},{"x":190,"y":395,"c":1},
      {"x":230,"y":385,"c":1},{"x":270,"y":400,"c":1},{"x":310,"y":410,"c":1},{"x":350,"y":395,"c":1},{"x":380,"y":420,"c":1},{"x":420,"y":430,"c":1},{"x":250,"y":430,"c":1},{"x":210,"y":440,"c":1},{"x":100,"y":425,"c":1},{"x":60,"y":410,"c":1},{"x":15,"y":390,"c":1},{"x":400,"y":380,"c":1},{"x":440,"y":370,"c":1},{"x":480,"y":365,"c":1},{"x":520,"y":360,"c":1},
      {"x":450,"y":280,"c":1},{"x":480,"y":260,"c":1},{"x":420,"y":230,"c":1},{"x":445,"y":215,"c":1},{"x":470,"y":200,"c":1},{"x":500,"y":175,"c":1},{"x":460,"y":160,"c":1},{"x":440,"y":150,"c":1},{"x":410,"y":140,"c":1},{"x":430,"y":120,"c":1},{"x":380,"y":90,"c":1},{"x":360,"y":85,"c":1},{"x":330,"y":80,"c":1},{"x":300,"y":85,"c":1},
      {"x":390,"y":250,"c":1},{"x":410,"y":270,"c":1},{"x":395,"y":195,"c":1},{"x":420,"y":180,"c":1},{"x":415,"y":160,"c":2},{"x":395,"y":120,"c":1},{"x":400,"y":105,"c":1},{"x":430,"y":255,"c":1},{"x":455,"y":240,"c":1},{"x":480,"y":225,"c":1},{"x":510,"y":215,"c":1},{"x":405,"y":290,"c":1},{"x":380,"y":310,"c":1},{"x":350,"y":320,"c":1},{"x":330,"y":300,"c":1},
      {"x":385,"y":175,"c":2},{"x":400,"y":215,"c":1},{"x":425,"y":200,"c":1},{"x":450,"y":185,"c":1},{"x":475,"y":170,"c":1},{"x":490,"y":190,"c":1},{"x":385,"y":140,"c":1},{"x":410,"y":125,"c":1},{"x":440,"y":135,"c":1},{"x":465,"y":110,"c":1},{"x":390,"y":235,"c":2},{"x":420,"y":250,"c":1},{"x":465,"y":270,"c":1},{"x":510,"y":245,"c":1},{"x":520,"y":290,"c":1}
    ]
  },
  "spacing": 96.5,
  "resolve": {"scale": {"color": "independent", "x": "independent", "y": "independent"}, "legend": {"color": "independent"}},
  "hconcat": [
    {
      "width": 957, "height": 1213,
      "title": {"text": "GMM, Dᵐⁱˣᵉᵈₜₑₛₜ"},
      "layer": [
        {
          "data": {"name": "p1c"},
          "mark": {"type": "rect", "clip": true, "binSpacing": 0},
          "encoding": {
            "x": {"field": "x", "type": "quantitative", "bin": {"binned": true, "step": 37.5}, "title": "ε (meV/Å)", "scale": {"domain": [0, 1127], "nice": false, "zero": false}, "axis": {"values": [0, 500, 1000], "format": "d"}},
            "y": {"field": "y", "type": "quantitative", "bin": {"binned": true, "step": 2}, "title": "NLL", "scale": {"domain": [-74.3, 4.66], "nice": false, "zero": false}, "axis": {"values": [-70, -60, -50, -40, -30, -20, -10, 0]}},
            "color": {"field": "c", "type": "quantitative", "scale": {"type": "log", "scheme": "viridis", "domain": [1, 480]}, "legend": {"values": [1, 10, 100], "title": null, "labelOffset": 34.4, "labelExpr": "datum.value == 1 ? '10⁰' : datum.value == 10 ? '10¹' : datum.value == 100 ? '10²' : '10³'"}},
            "opacity": {"condition": [{"test": "datum.c <= 1", "value": 0.65}, {"test": "datum.c <= 2", "value": 0.85}], "value": 1}
          }
        },
        {
          "data": {"name": "p1f"},
          "mark": {"type": "rect", "clip": true, "binSpacing": 0},
          "encoding": {
            "x": {"field": "x", "type": "quantitative", "bin": {"binned": true, "step": 9.4}, "title": "ε (meV/Å)"},
            "y": {"field": "y", "type": "quantitative", "bin": {"binned": true, "step": 0.5}, "title": "NLL"},
            "color": {"field": "c", "type": "quantitative", "scale": {"type": "log", "scheme": "viridis", "domain": [1, 480]}, "legend": null}
          }
        },
        {
          "data": {"name": "a1"},
          "mark": {"type": "rule", "strokeDash": [24, 12.4], "strokeWidth": 3.8, "color": "black"},
          "encoding": {"x": {"field": "m", "type": "quantitative", "title": "ε (meV/Å)"}}
        },
        {
          "data": {"name": "a1"},
          "mark": {"type": "text", "align": "left", "baseline": "alphabetic", "fontSize": 57.3, "color": "black"},
          "encoding": {"x": {"field": "tx", "type": "quantitative", "title": "ε (meV/Å)"}, "y": {"field": "ty", "type": "quantitative", "title": "NLL"}, "text": {"field": "t"}}
        }
      ]
    },
    {
      "spacing": 48,
      "resolve": {"scale": {"color": "independent", "x": "independent", "y": "independent"}, "legend": {"color": "independent"}},
      "hconcat": [
        {
          "width": 954, "height": 1213,
          "title": {"text": "Traditional Ensemble, Dᵐⁱˣᵉᵈₜₑₛₜ"},
          "layer": [
            {
              "data": {"name": "p2c"},
              "mark": {"type": "rect", "clip": true, "binSpacing": 0},
              "encoding": {
                "x": {"field": "x", "type": "quantitative", "bin": {"binned": true, "step": 37.5}, "title": "ε (meV/Å)", "scale": {"domain": [0, 1127], "nice": false, "zero": false}, "axis": {"values": [0, 250, 500, 750, 1000], "format": "d"}},
                "y": {"field": "y", "type": "quantitative", "bin": {"binned": true, "step": 17.5}, "title": "σ (meV/Å)", "scale": {"domain": [0, 695], "nice": false, "zero": false}, "axis": {"values": [0, 100, 200, 300, 400, 500, 600]}},
                "color": {"field": "c", "type": "quantitative", "scale": {"type": "log", "scheme": "viridis", "domain": [1, 1370]}, "legend": {"values": [1, 10, 100, 1000], "title": null, "labelOffset": 34.4, "labelExpr": "datum.value == 1 ? '10⁰' : datum.value == 10 ? '10¹' : datum.value == 100 ? '10²' : '10³'"}},
                "opacity": {"condition": [{"test": "datum.c <= 1", "value": 0.65}, {"test": "datum.c <= 2", "value": 0.85}], "value": 1}
              }
            },
            {
              "data": {"name": "p2f"},
              "mark": {"type": "rect", "clip": true, "binSpacing": 0},
              "encoding": {
                "x": {"field": "x", "type": "quantitative", "bin": {"binned": true, "step": 9.4}, "title": "ε (meV/Å)"},
                "y": {"field": "y", "type": "quantitative", "bin": {"binned": true, "step": 4.4}, "title": "σ (meV/Å)"},
                "color": {"field": "c", "type": "quantitative", "scale": {"type": "log", "scheme": "viridis", "domain": [1, 1370]}, "legend": null}
              }
            },
            {
              "data": {"name": "a2"},
              "mark": {"type": "rule", "strokeDash": [24, 12.4], "strokeWidth": 3.8, "color": "black"},
              "encoding": {"x": {"field": "m", "type": "quantitative", "title": "ε (meV/Å)"}}
            },
            {
              "data": {"name": "a2"},
              "mark": {"type": "text", "align": "left", "baseline": "alphabetic", "fontSize": 57.3, "color": "black"},
              "encoding": {"x": {"field": "tx", "type": "quantitative", "title": "ε (meV/Å)"}, "y": {"field": "ty", "type": "quantitative", "title": "σ (meV/Å)"}, "text": {"field": "t"}}
            }
          ]
        },
        {
          "width": 966, "height": 1213,
          "title": {"text": "Diverse Ensemble, Dᵐⁱˣᵉᵈₜₑₛₜ"},
          "layer": [
            {
              "data": {"name": "p3c"},
              "mark": {"type": "rect", "clip": true, "binSpacing": 0},
              "encoding": {
                "x": {"field": "x", "type": "quantitative", "bin": {"binned": true, "step": 37.5}, "title": "ε (meV/Å)", "scale": {"domain": [0, 1127], "nice": false, "zero": false}, "axis": {"values": [0, 250, 500, 750, 1000], "format": "d"}},
                "y": {"field": "y", "type": "quantitative", "bin": {"binned": true, "step": 17.5}, "title": null, "scale": {"domain": [0, 695], "nice": false, "zero": false}, "axis": {"values": [0, 100, 200, 300, 400, 500, 600], "labels": false}},
                "color": {"field": "c", "type": "quantitative", "scale": {"type": "log", "scheme": "viridis", "domain": [1, 500]}, "legend": {"values": [1, 10, 100], "title": null, "labelOffset": 34.4, "labelExpr": "datum.value == 1 ? '10⁰' : datum.value == 10 ? '10¹' : datum.value == 100 ? '10²' : '10³'"}},
                "opacity": {"condition": [{"test": "datum.c <= 1", "value": 0.65}, {"test": "datum.c <= 2", "value": 0.85}], "value": 1}
              }
            },
            {
              "data": {"name": "p3f"},
              "mark": {"type": "rect", "clip": true, "binSpacing": 0},
              "encoding": {
                "x": {"field": "x", "type": "quantitative", "bin": {"binned": true, "step": 9.4}, "title": "ε (meV/Å)"},
                "y": {"field": "y", "type": "quantitative", "bin": {"binned": true, "step": 4.4}, "title": null},
                "color": {"field": "c", "type": "quantitative", "scale": {"type": "log", "scheme": "viridis", "domain": [1, 500]}, "legend": null}
              }
            },
            {
              "data": {"name": "a3"},
              "mark": {"type": "rule", "strokeDash": [24, 12.4], "strokeWidth": 3.8, "color": "black"},
              "encoding": {"x": {"field": "m", "type": "quantitative", "title": "ε (meV/Å)"}}
            },
            {
              "data": {"name": "a3"},
              "mark": {"type": "text", "align": "left", "baseline": "alphabetic", "fontSize": 57.3, "color": "black"},
              "encoding": {"x": {"field": "tx", "type": "quantitative", "title": "ε (meV/Å)"}, "y": {"field": "ty", "type": "quantitative", "title": null}, "text": {"field": "t"}}
            }
          ]
        }
      ]
    }
  ]
}
